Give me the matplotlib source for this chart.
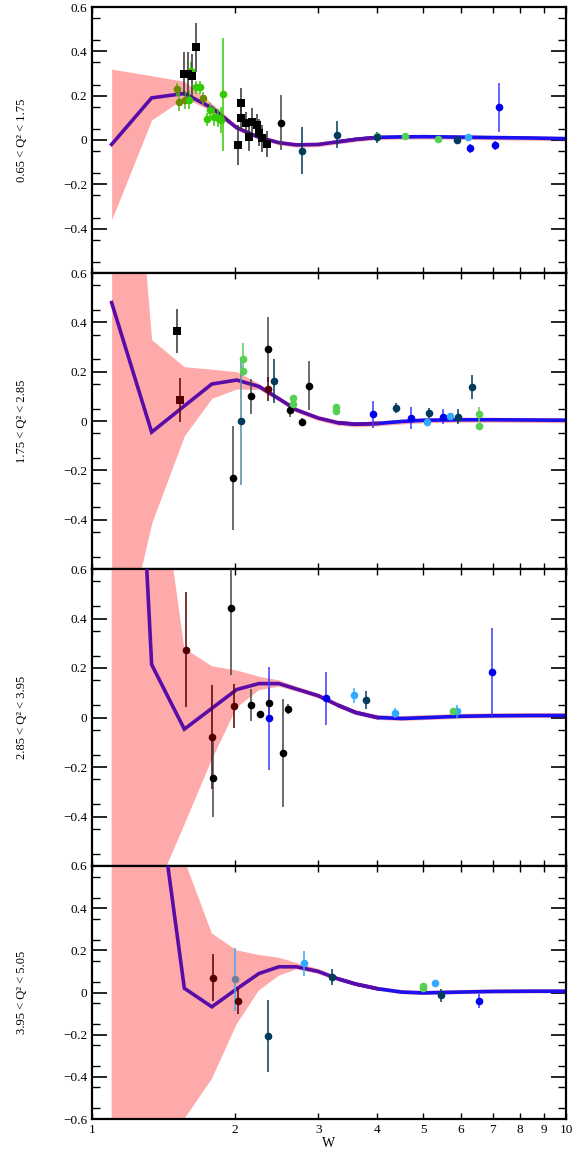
import numpy as np
import matplotlib
matplotlib.use('Agg')
import matplotlib.pyplot as plt
from matplotlib.ticker import FixedLocator, NullLocator, NullFormatter

plt.rcParams['font.family'] = ['Liberation Serif', 'DejaVu Serif']

# model grid in W
grid_w = [1.1, 1.336, 1.566, 1.79, 2.02, 2.25, 2.48, 2.7, 3.0, 3.3, 3.6, 4.0, 4.5, 5.0, 6.0, 7.0, 8.5, 10.0]

curve1 = [-0.02, 0.19, 0.21, 0.145, 0.055, 0.012, -0.012, -0.022, -0.02, -0.008, 0.003, 0.012, 0.014, 0.015, 0.013, 0.011, 0.009, 0.006]
up1 = [0.32, 0.29, 0.265, 0.165, 0.068, 0.022, -0.002, -0.012, -0.01, 0.002, 0.013, 0.022, 0.024, 0.025, 0.023, 0.021, 0.019, 0.016]
lo1 = [-0.36, 0.09, 0.19, 0.13, 0.045, 0.003, -0.022, -0.032, -0.03, -0.018, -0.007, 0.002, 0.004, 0.005, 0.003, 0.001, -0.001, -0.004]

curve2 = [0.48, -0.045, 0.061, 0.15, 0.166, 0.14, 0.09, 0.045, 0.012, -0.007, -0.013, -0.01, -0.002, 0.003, 0.005, 0.005, 0.004, 0.003]
up2 = [2.3, 0.33, 0.22, 0.21, 0.2, 0.152, 0.1, 0.055, 0.022, 0.003, -0.003, 0.0, 0.008, 0.013, 0.015, 0.015, 0.014, 0.013]
lo2 = [-1.12, -0.415, -0.06, 0.092, 0.13, 0.128, 0.08, 0.035, 0.002, -0.017, -0.023, -0.02, -0.012, -0.007, -0.005, -0.005, -0.006, -0.007]

curve3 = [3.4, 0.214, -0.047, 0.037, 0.113, 0.137, 0.137, 0.115, 0.088, 0.05, 0.02, 0.0, -0.004, -0.001, 0.005, 0.007, 0.008, 0.008]
up3 = [3.0, 1.23, 0.28, 0.207, 0.19, 0.165, 0.15, 0.125, 0.098, 0.06, 0.03, 0.01, 0.006, 0.009, 0.015, 0.017, 0.018, 0.018]
lo3 = [-3.0, -0.74, -0.434, -0.17, 0.04, 0.11, 0.125, 0.105, 0.078, 0.04, 0.01, -0.01, -0.014, -0.011, -0.005, -0.003, -0.002, -0.002]

curve4 = [3.0, 1.17, 0.02, -0.068, 0.017, 0.09, 0.122, 0.122, 0.1, 0.065, 0.04, 0.018, 0.002, -0.002, 0.002, 0.005, 0.006, 0.006]
up4 = [3.0, 1.5, 0.63, 0.28, 0.2, 0.178, 0.165, 0.14, 0.112, 0.075, 0.05, 0.028, 0.012, 0.008, 0.012, 0.015, 0.016, 0.016]
lo4 = [-3.0, -1.5, -0.6, -0.41, -0.15, 0.01, 0.08, 0.11, 0.088, 0.055, 0.03, 0.008, -0.008, -0.012, -0.008, -0.005, -0.004, -0.004]

# data points: (W, value, error)
q1_black_sq = [(1.564, 0.298, 0.10), (1.597, 0.298, 0.10), (1.623, 0.29, 0.10), (1.657, 0.418, 0.11),
               (2.03, -0.023, 0.09), (2.06, 0.168, 0.065), (2.06, 0.098, 0.05), (2.11, 0.075, 0.05),
               (2.14, 0.015, 0.065), (2.18, 0.083, 0.06), (2.225, 0.068, 0.05), (2.25, 0.033, 0.06),
               (2.28, 0.008, 0.06), (2.34, -0.018, 0.06)]
q1_black = [(2.5, 0.078, 0.125)]
q1_olive = [(1.509, 0.228, 0.03), (1.528, 0.173, 0.04), (1.57, 0.18, 0.04), (1.717, 0.188, 0.03)]
q1_green = [(1.6, 0.18, 0.04), (1.62, 0.313, 0.04), (1.66, 0.238, 0.03), (1.69, 0.238, 0.03),
            (1.75, 0.093, 0.03), (1.77, 0.135, 0.03), (1.81, 0.105, 0.04), (1.84, 0.1, 0.04),
            (1.87, 0.09, 0.06), (1.89, 0.206, 0.255)]
q1_lgreen = [(3.99, 0.017, 0.0), (4.58, 0.02, 0.0), (5.36, 0.006, 0.0)]
q1_dblue = [(2.78, -0.048, 0.105), (3.29, 0.024, 0.06), (3.99, 0.012, 0.025), (5.9, 0.0, 0.02)]
q1_lblue = [(6.22, 0.015, 0.01)]
q1_blue = [(6.28, -0.037, 0.02), (7.1, -0.023, 0.02), (7.23, 0.147, 0.11)]

q2_black_sq = [(1.509, 0.365, 0.088)]
q2_dred_sq = [(1.533, 0.085, 0.09)]
q2_black = [(1.987, -0.232, 0.21), (2.165, 0.1, 0.072), (2.35, 0.29, 0.13), (2.62, 0.045, 0.03),
            (2.78, -0.003, 0.015), (2.87, 0.143, 0.1)]
q2_dred = [(2.35, 0.13, 0.05)]
q2_lgreen = [(2.08, 0.25, 0.066), (2.08, 0.204, 0.0), (2.66, 0.092, 0.01), (2.66, 0.07, 0.0),
             (3.27, 0.055, 0.0), (3.27, 0.04, 0.0), (6.54, 0.027, 0.03), (6.54, -0.02, 0.01)]
q2_sblue = [(2.06, 0.0, 0.26)]
q2_dblue = [(2.42, 0.162, 0.09), (4.38, 0.053, 0.02), (5.14, 0.034, 0.02), (5.93, 0.018, 0.03), (6.34, 0.138, 0.05)]
q2_blue = [(3.91, 0.027, 0.055), (4.72, 0.011, 0.045), (5.5, 0.018, 0.03)]
q2_lblue = [(5.08, -0.003, 0.0), (5.7, 0.022, 0.0)]

q3_dred = [(1.579, 0.274, 0.232), (1.794, -0.078, 0.21), (1.99, 0.046, 0.09)]
q3_black = [(1.8, -0.243, 0.16), (1.964, 0.442, 0.27), (2.165, 0.052, 0.065), (2.26, 0.016, 0.01),
            (2.36, 0.06, 0.06), (2.53, -0.145, 0.218), (2.59, 0.036, 0.02)]
q3_blue = [(2.36, -0.004, 0.21), (3.11, 0.077, 0.107), (6.97, 0.184, 0.176)]
q3_lblue = [(3.57, 0.09, 0.03), (4.36, 0.02, 0.02), (5.88, 0.025, 0.025)]
q3_dblue = [(3.79, 0.07, 0.037)]
q3_lgreen = [(5.77, 0.025, 0.0)]

q4_dred = [(1.8, 0.071, 0.11), (2.03, -0.04, 0.06)]
q4_gblue = [(2.0, 0.063, 0.15)]
q4_dblue = [(2.35, -0.206, 0.17), (3.21, 0.074, 0.037), (5.44, -0.013, 0.03)]
q4_lblue = [(2.8, 0.138, 0.058), (5.3, 0.047, 0.0)]
q4_lgreen = [(5.0, 0.022, 0.0), (5.0, 0.032, 0.0)]
q4_blue = [(6.55, -0.04, 0.035)]

q_labels = ['0.65 < Q² < 1.75', '1.75 < Q² < 2.85', '2.85 < Q² < 3.95', '3.95 < Q² < 5.05']

styles = {
    'black_sq': ('s', '#000000', '#333333'),
    'dred_sq': ('s', '#550000', '#660000'),
    'black': ('o', '#000000', '#444444'),
    'olive': ('o', '#6b8a00', '#44bb22'),
    'green': ('o', '#33cc00', '#33cc00'),
    'lgreen': ('o', '#55d055', '#55d055'),
    'dblue': ('o', '#003b5c', '#003b5c'),
    'sblue': ('o', '#003b5c', '#5a88aa'),
    'lblue': ('o', '#33aaff', '#33aaff'),
    'blue': ('o', '#0000ee', '#3a3aff'),
    'dred': ('o', '#550000', '#550000'),
    'gblue': ('o', '#7080a0', '#44aaee'),
}

panels = [
    (curve1, up1, lo1, {'olive': q1_olive, 'green': q1_green, 'black_sq': q1_black_sq, 'black': q1_black,
                        'lgreen': q1_lgreen, 'dblue': q1_dblue, 'lblue': q1_lblue, 'blue': q1_blue}),
    (curve2, up2, lo2, {'black_sq': q2_black_sq, 'dred_sq': q2_dred_sq, 'black': q2_black, 'dred': q2_dred,
                        'lgreen': q2_lgreen, 'sblue': q2_sblue, 'dblue': q2_dblue, 'blue': q2_blue,
                        'lblue': q2_lblue}),
    (curve3, up3, lo3, {'dred': q3_dred, 'black': q3_black, 'blue': q3_blue, 'lblue': q3_lblue,
                        'dblue': q3_dblue, 'lgreen': q3_lgreen}),
    (curve4, up4, lo4, {'dred': q4_dred, 'gblue': q4_gblue, 'dblue': q4_dblue, 'lblue': q4_lblue,
                        'lgreen': q4_lgreen, 'blue': q4_blue}),
]

W, H = 572, 1157
fig = plt.figure(figsize=(W / 100, H / 100), dpi=100)
edges = [7, 273, 569, 866, 1119]
left, right = 92, 566

gw = np.array(grid_w)
axes = []
for k, (curve, up, lo, sets) in enumerate(panels):
    top, bot = edges[k], edges[k + 1]
    ax = fig.add_axes([left / W, 1 - bot / H, (right - left) / W, (bot - top) / H],
                      sharex=axes[0] if axes else None)
    axes.append(ax)
    ax.fill_between(gw, lo, up, color='#ffaaaa', lw=0, zorder=1)
    c = np.array(curve)
    ax.plot(gw[9:], c[9:], color='#1a10f0', lw=2.6, zorder=2, solid_capstyle='butt')
    ax.plot(gw[:12], c[:12], color='#5a0ca8', lw=2.6, zorder=3, solid_joinstyle='miter')
    for name, pts in sets.items():
        marker, fc, ec = styles[name]
        d = np.array(pts)
        ax.errorbar(d[:, 0], d[:, 1], yerr=d[:, 2], fmt=marker, color=fc, ecolor=ec,
                    ms=5.5 if marker == 'o' else 6, mew=0, elinewidth=1.1, capsize=2.2,
                    capthick=1, zorder=4)

    ax.set_xscale('log')
    ax.set_xlim(1, 10)
    ax.set_ylim(-0.6, 0.6)
    ax.xaxis.set_major_locator(FixedLocator([1, 2, 3, 4, 5, 6, 7, 8, 9, 10]))
    ax.xaxis.set_minor_locator(NullLocator())
    ax.yaxis.set_major_locator(FixedLocator([-0.6, -0.4, -0.2, 0, 0.2, 0.4, 0.6]))
    ax.yaxis.set_minor_locator(FixedLocator(np.arange(-0.55, 0.6, 0.1)))
    ylabels = ['\u22120.6', '\u22120.4', '\u22120.2', '0', '0.2', '0.4', '0.6']
    if k < 3:
        ylabels[0] = ''
    ax.set_yticklabels(ylabels)
    ax.tick_params(which='both', direction='in', top=True, right=True, labelsize=9.5)
    ax.tick_params(axis='y', which='major', length=11, width=1.2)
    ax.tick_params(axis='y', which='minor', length=6, width=1.0)
    ax.tick_params(axis='x', which='major', length=4, width=1.0)
    for sp in ax.spines.values():
        sp.set_linewidth(1.6)
    if k < 3:
        ax.tick_params(axis='x', labelbottom=False)
    else:
        ax.set_xticklabels(['1', '2', '3', '4', '5', '6', '7', '8', '9', '10'])
        ax.set_xlabel('W', fontsize=10, labelpad=1)
    fig.text(22 / W, 1 - (top + bot) / 2 / H, q_labels[k], rotation=90,
             ha='center', va='center', fontsize=9)

fig.savefig('out.png', dpi=100)
